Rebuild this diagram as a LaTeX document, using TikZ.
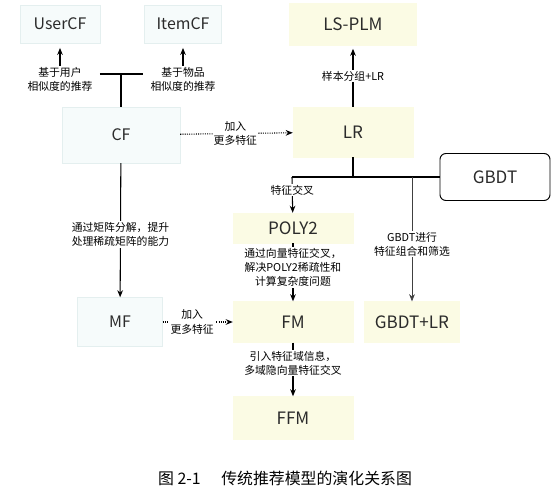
\documentclass[tikz,border=0pt]{standalone}
\usepackage{fontspec}
\setmainfont{Noto Sans CJK SC}
\usetikzlibrary{arrows.meta,positioning,calc}
\definecolor{cffill}{HTML}{F6FBFB}
\definecolor{cfline}{HTML}{E4EFEF}
\definecolor{lrfill}{HTML}{FBFBE4}
\definecolor{boxtext}{HTML}{2B2B2B}

\begin{document}
\begin{tikzpicture}[
  x=0.85pt, y=-0.85pt,
  sz/.style 2 args={minimum width={#1*0.85pt}, minimum height={#2*0.85pt}, inner sep=0pt},
  cfbox/.style={draw=cfline, fill=cffill, text=boxtext, font=\fontsize{13.5}{15}\selectfont},
  lrbox/.style={draw=lrfill, fill=lrfill, text=boxtext, font=\fontsize{14.5}{16}\selectfont},
  treebox/.style={draw=black, line width=0.8pt, rounded corners=5pt, fill=white,
                  text=boxtext, font=\fontsize{14.5}{16}\selectfont},
  note/.style={font=\fontsize{9.2}{12}\selectfont, align=center, fill=white, inner sep=1pt},
  arr/.style={-{Stealth[length=6pt,width=4.8pt]}, line width=0.9pt},
  dotarr/.style={arr, densely dotted},
  thinarr/.style={-{Stealth[length=6pt,width=4.8pt]}, line width=0.45pt, draw=black!75}
]
  \useasboundingbox (0,0) rectangle (560,495);

  % collaborative filtering side
  \node[cfbox, sz={80}{38}] (usercf) at (60,24) {UserCF};
  \node[cfbox, sz={77}{38}] (itemcf) at (183,24) {ItemCF};
  \node[cfbox, sz={118}{56}] (cf) at (121,135) {CF};
  \node[cfbox, sz={85}{49}] (mf) at (120,322) {MF};

  % logistic regression side
  \node[lrbox, sz={127}{42}] (lsplm) at (353,24) {LS-PLM};
  \node[lrbox, sz={120}{50}] (lr) at (353,132) {LR};
  \node[treebox, sz={110}{47}] (gbdt) at (495,177) {GBDT};
  \node[lrbox, sz={120}{30}] (poly2) at (293,228) {POLY2};
  \node[lrbox, sz={120}{41}] (fm) at (293,322) {FM};
  \node[lrbox, sz={95}{41}] (gbdtlr) at (412,322) {GBDT+LR};
  \node[lrbox, sz={120}{43}] (ffm) at (293,418) {FFM};

  % CF branches
  \node[note] (userlbl) at (60,79) {基于用户\\相似度的推荐};
  \node[note] (itemlbl) at (183,79) {基于物品\\相似度的推荐};
  \coordinate (cfjoin) at (121,74);
  \draw[line width=0.9pt] (cf) -- (cfjoin);
  \draw[line width=0.9pt, shorten <=5pt, shorten >=5pt] (userlbl.east |- cfjoin) -- (itemlbl.west |- cfjoin);
  \draw[arr, shorten >=4pt] (userlbl) -- (usercf);
  \draw[arr, shorten >=4pt] (itemlbl) -- (itemcf);

  \draw[arr] (cf) -- node[note, pos=0.53] {通过矩阵分解，提升\\处理稀疏矩阵的能力} (mf);
  \draw[dotarr] (cf) -- node[note, pos=0.49] {加入\\更多特征} (lr);
  \draw[dotarr] (mf) -- node[note, pos=0.42] {加入\\更多特征} (fm);

  % LR branches
  \draw[arr, shorten >=3pt] (lr) -- node[note, pos=0.5] {样本分组+LR} (lsplm);
  \coordinate (lrjoin) at (353,177);
  \coordinate (crossleft) at (292,177);
  \coordinate (gbdtjoin) at (412,177);
  \draw[line width=0.9pt] (lr) -- (lrjoin);
  \draw[line width=0.9pt] (crossleft) -- (gbdt);
  \draw[arr] (crossleft) -- node[note, pos=0.36] {特征交叉} (poly2);
  \draw[thinarr] (gbdtjoin) -- node[note, pos=0.54] {GBDT进行\\特征组合和筛选} (gbdtlr);
  \draw[arr] (poly2) -- node[note, pos=0.42] {通过向量特征交叉，\\解决POLY2稀疏性和\\计算复杂度问题} (fm);
  \draw[arr] (fm) -- node[note, pos=0.38] {引入特征域信息，\\多域隐向量特征交叉} (ffm);

  \node[font=\fontsize{13.5}{15}\selectfont] (caption) at (285,478)
    {图 2-1\hspace{1.3em}传统推荐模型的演化关系图};
\end{tikzpicture}
\end{document}
